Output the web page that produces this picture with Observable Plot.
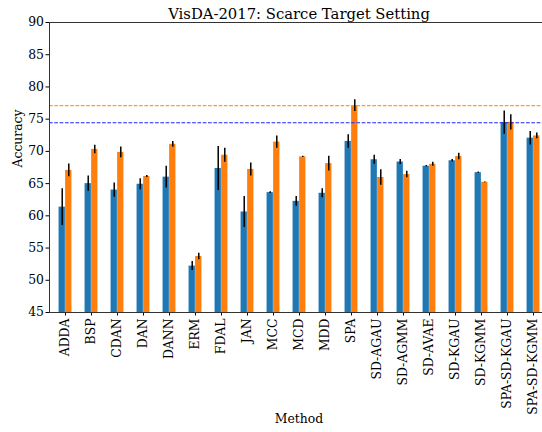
<!DOCTYPE html>
<html>
<head>
<meta charset="utf-8">
<script src="https://cdn.jsdelivr.net/npm/d3@7"></script>
<script src="https://cdn.jsdelivr.net/npm/@observablehq/plot@0.6"></script>
<style>
  html, body { margin: 0; padding: 0; overflow: hidden; background: white; }
</style>
</head>
<body>
<div id="chart"></div>
<script>
const methods = ["ADDA","BSP","CDAN","DAN","DANN","ERM","FDAL","JAN","MCC","MCD","MDD","SPA",
  "SD-AGAU","SD-AGMM","SD-AVAE","SD-KGAU","SD-KGMM","SPA-SD-KGAU","SPA-SD-KGMM"];
const blueMean = [61.35,65.0,64.0,64.9,66.0,52.2,67.35,60.6,63.6,62.25,63.5,71.55,68.7,68.35,67.7,68.55,66.7,74.45,72.05];
const blueErr  = [2.85,1.2,1.1,0.85,1.7,0.7,3.4,2.4,0.15,0.75,0.7,1.05,0.7,0.4,0.1,0.2,0.1,1.8,1.05];
const orangeMean = [67.05,70.3,69.85,66.1,71.1,53.7,69.4,67.2,71.45,69.15,68.1,77.1,65.95,66.4,68.0,69.2,65.2,74.5,72.4];
const orangeErr  = [1.0,0.65,0.85,0.15,0.45,0.5,1.1,1.0,0.95,0.1,1.15,0.9,1.2,0.5,0.3,0.5,0.05,1.2,0.45];
const blueRef = 74.45;
const orangeRef = 77.1;
const yTicks = [45,50,55,60,65,70,75,80,85,90];
const titleText = "VisDA-2017: Scarce Target Setting";
const xLabel = "Method";
const yLabel = "Accuracy";

const blueData = methods.map((m, i) => ({method: m, value: blueMean[i], err: blueErr[i]}));
const orangeData = methods.map((m, i) => ({method: m, value: orangeMean[i], err: orangeErr[i]}));

const W = 550, H = 432, ML = 49, MR = 2, MT = 22, MB = 120;
const bw = (W - ML - MR) / methods.length;
const font = "DejaVu Serif";
const tickFont = 12.4;

const chart = Plot.plot({
  width: W, height: H,
  marginLeft: ML, marginRight: MR, marginTop: MT, marginBottom: MB,
  style: {maxWidth: "none", fontFamily: font, fontSize: tickFont + "px", color: "black", background: "white"},
  x: {domain: methods, padding: 0, axis: null},
  y: {domain: [45, 90], axis: null},
  marks: [
    Plot.rectY(blueData, {x: "method", y: "value", fill: "#1f77b4", insetLeft: bw / 4, insetRight: bw / 2, clip: true}),
    Plot.rectY(orangeData, {x: "method", y: "value", fill: "#ff7f0e", insetLeft: bw / 2, insetRight: bw / 4, clip: true}),
    Plot.ruleY([orangeRef], {stroke: "#ffa500", strokeWidth: 1.2, strokeDasharray: "3.7,1.6"}),
    Plot.ruleY([blueRef], {stroke: "#2222ff", strokeWidth: 1.1, strokeDasharray: "3.7,1.6"}),
    Plot.ruleX(blueData, {x: "method", y1: d => d.value - d.err, y2: d => d.value + d.err, dx: -bw / 8, stroke: "black", strokeWidth: 1.5}),
    Plot.ruleX(orangeData, {x: "method", y1: d => d.value - d.err, y2: d => d.value + d.err, dx: bw / 8, stroke: "black", strokeWidth: 1.5}),
    Plot.axisY({ticks: yTicks, tickSize: 3.5, tickPadding: 2, label: null, fontSize: tickFont}),
    Plot.axisX({tickRotate: -90, tickSize: 3.5, tickPadding: 2.5, label: null, fontSize: tickFont}),
    Plot.frame({stroke: "#333", strokeWidth: 1}),
    Plot.text([titleText], {frameAnchor: "top", lineAnchor: "bottom", dy: -4, fontSize: 14.8, fill: "black"}),
    Plot.text([yLabel], {frameAnchor: "left", rotate: -90, dx: -31, fontSize: tickFont, fill: "black"}),
    Plot.text([xLabel], {frameAnchor: "bottom", dy: 110.5, fontSize: tickFont, fill: "black"})
  ]
});
document.getElementById("chart").appendChild(chart);
</script>
</body>
</html>
